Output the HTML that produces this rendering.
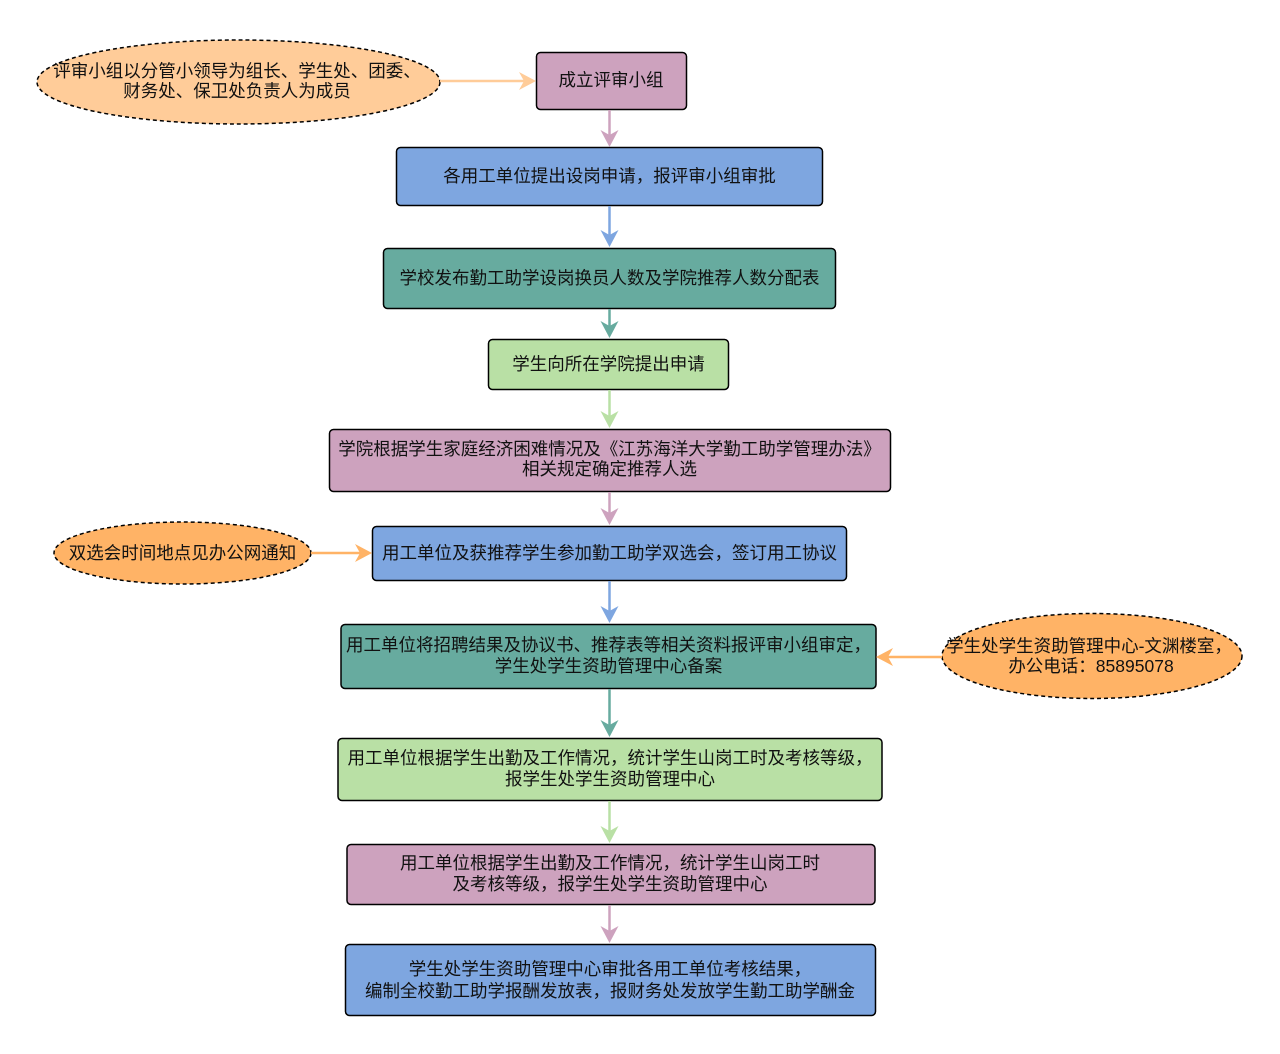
<!DOCTYPE html>
<html>
<head>
<meta charset="utf-8">
<style>
  html,body{margin:0;padding:0;background:#fff;}
  svg{display:block;}
  text{font-family:"Liberation Sans","Noto Sans CJK SC",sans-serif;font-size:17.5px;fill:#111;}
</style>
</head>
<body>
<svg width="1280" height="1054" viewBox="0 0 1280 1054" xmlns="http://www.w3.org/2000/svg">
  <rect x="0" y="0" width="1280" height="1054" fill="#fff"/>

  <!-- Ellipses -->
  <ellipse cx="238.5" cy="82" rx="201.5" ry="42" fill="#ffcc99" stroke="#000" stroke-width="1.5" stroke-dasharray="4 3"/>
  <ellipse cx="182.5" cy="553" rx="128.5" ry="31" fill="#ffb366" stroke="#000" stroke-width="1.5" stroke-dasharray="4 3"/>
  <ellipse cx="1092" cy="656" rx="150" ry="42.5" fill="#ffb366" stroke="#000" stroke-width="1.5" stroke-dasharray="4 3"/>

  <!-- Boxes -->
  <rect x="536.5" y="52.5" width="150" height="57" rx="4" fill="#cda2be" stroke="#000" stroke-width="1.5"/>
  <rect x="396.5" y="147.5" width="426" height="58" rx="4" fill="#7ea6e0" stroke="#000" stroke-width="1.5"/>
  <rect x="383.5" y="248.5" width="452" height="60" rx="4" fill="#67ab9f" stroke="#000" stroke-width="1.5"/>
  <rect x="488.5" y="339.5" width="240" height="50" rx="4" fill="#b9e0a5" stroke="#000" stroke-width="1.5"/>
  <rect x="329.5" y="429.5" width="561" height="62" rx="4" fill="#cda2be" stroke="#000" stroke-width="1.5"/>
  <rect x="372.5" y="526.5" width="474" height="54" rx="4" fill="#7ea6e0" stroke="#000" stroke-width="1.5"/>
  <rect x="341" y="624.5" width="535" height="64" rx="4" fill="#67ab9f" stroke="#000" stroke-width="1.5"/>
  <rect x="338" y="738.5" width="544" height="62" rx="4" fill="#b9e0a5" stroke="#000" stroke-width="1.5"/>
  <rect x="347" y="844.5" width="528" height="60" rx="4" fill="#cda2be" stroke="#000" stroke-width="1.5"/>
  <rect x="345.5" y="944.5" width="530" height="71" rx="4" fill="#7ea6e0" stroke="#000" stroke-width="1.5"/>

  <!-- Connectors -->
  <g stroke-width="2.5" fill="none">
    <line x1="609.5" y1="110" x2="609.5" y2="136" stroke="#cda2be"/>
    <line x1="609.5" y1="206" x2="609.5" y2="237" stroke="#7ea6e0"/>
    <line x1="609.5" y1="309" x2="609.5" y2="328" stroke="#67ab9f"/>
    <line x1="609.5" y1="390" x2="609.5" y2="418" stroke="#b9e0a5"/>
    <line x1="609.5" y1="492" x2="609.5" y2="515" stroke="#cda2be"/>
    <line x1="609.5" y1="581" x2="609.5" y2="613" stroke="#7ea6e0"/>
    <line x1="609.5" y1="689" x2="609.5" y2="727" stroke="#67ab9f"/>
    <line x1="609.5" y1="801" x2="609.5" y2="833" stroke="#b9e0a5"/>
    <line x1="609.5" y1="905" x2="609.5" y2="933" stroke="#cda2be"/>
    <line x1="440" y1="81" x2="524" y2="81" stroke="#ffcc99"/>
    <line x1="311" y1="553" x2="360" y2="553" stroke="#ffb366"/>
    <line x1="942" y1="657" x2="888" y2="657" stroke="#ffb366"/>
  </g>
  <!-- Arrowheads -->
  <g>
    <polygon points="609.5,147 600.5,130 609.5,135 618.5,130" fill="#cda2be"/>
    <polygon points="609.5,247 600.5,230 609.5,235 618.5,230" fill="#7ea6e0"/>
    <polygon points="609.5,338 600.5,321 609.5,326 618.5,321" fill="#67ab9f"/>
    <polygon points="609.5,428 600.5,411 609.5,416 618.5,411" fill="#b9e0a5"/>
    <polygon points="609.5,525 600.5,508 609.5,513 618.5,508" fill="#cda2be"/>
    <polygon points="609.5,623 600.5,606 609.5,611 618.5,606" fill="#7ea6e0"/>
    <polygon points="609.5,737 600.5,720 609.5,725 618.5,720" fill="#67ab9f"/>
    <polygon points="609.5,843 600.5,826 609.5,831 618.5,826" fill="#b9e0a5"/>
    <polygon points="609.5,943 600.5,926 609.5,931 618.5,926" fill="#cda2be"/>
    <polygon points="536,81 519,72 524,81 519,90" fill="#ffcc99"/>
    <polygon points="372,553 355,544 360,553 355,562" fill="#ffb366"/>
    <polygon points="876,657 893,648 888,657 893,666" fill="#ffb366"/>
  </g>

  <!-- Texts -->
  <g text-anchor="middle">
    <text x="237" y="77">评审小组以分管小领导为组长、学生处、团委、</text>
    <text x="237" y="97">财务处、保卫处负责人为成员</text>

    <text x="611" y="86">成立评审小组</text>
    <text x="609.5" y="182">各用工单位提出设岗申请，报评审小组审批</text>
    <text x="609.5" y="284">学校发布勤工助学设岗换员人数及学院推荐人数分配表</text>
    <text x="608.5" y="370">学生向所在学院提出申请</text>
    <text x="609.5" y="455">学院根据学生家庭经济困难情况及《江苏海洋大学勤工助学管理办法》</text>
    <text x="609.5" y="475">相关规定确定推荐人选</text>

    <text x="182.5" y="559">双选会时间地点见办公网通知</text>
    <text x="609.5" y="559">用工单位及获推荐学生参加勤工助学双选会，签订用工协议</text>

    <text x="608.5" y="651">用工单位将招聘结果及协议书、推荐表等相关资料报评审小组审定，</text>
    <text x="608.5" y="672">学生处学生资助管理中心备案</text>

    <text x="1089" y="652">学生处学生资助管理中心-文渊楼室，</text>
    <text x="1091" y="672">办公电话：85895078</text>

    <text x="610" y="764">用工单位根据学生出勤及工作情况，统计学生山岗工时及考核等级，</text>
    <text x="610" y="785">报学生处学生资助管理中心</text>

    <text x="610" y="869">用工单位根据学生出勤及工作情况，统计学生山岗工时</text>
    <text x="610" y="890">及考核等级，报学生处学生资助管理中心</text>

    <text x="610" y="975">学生处学生资助管理中心审批各用工单位考核结果，</text>
    <text x="610" y="997">编制全校勤工助学报酬发放表，报财务处发放学生勤工助学酬金</text>
  </g>
</svg>
</body>
</html>
